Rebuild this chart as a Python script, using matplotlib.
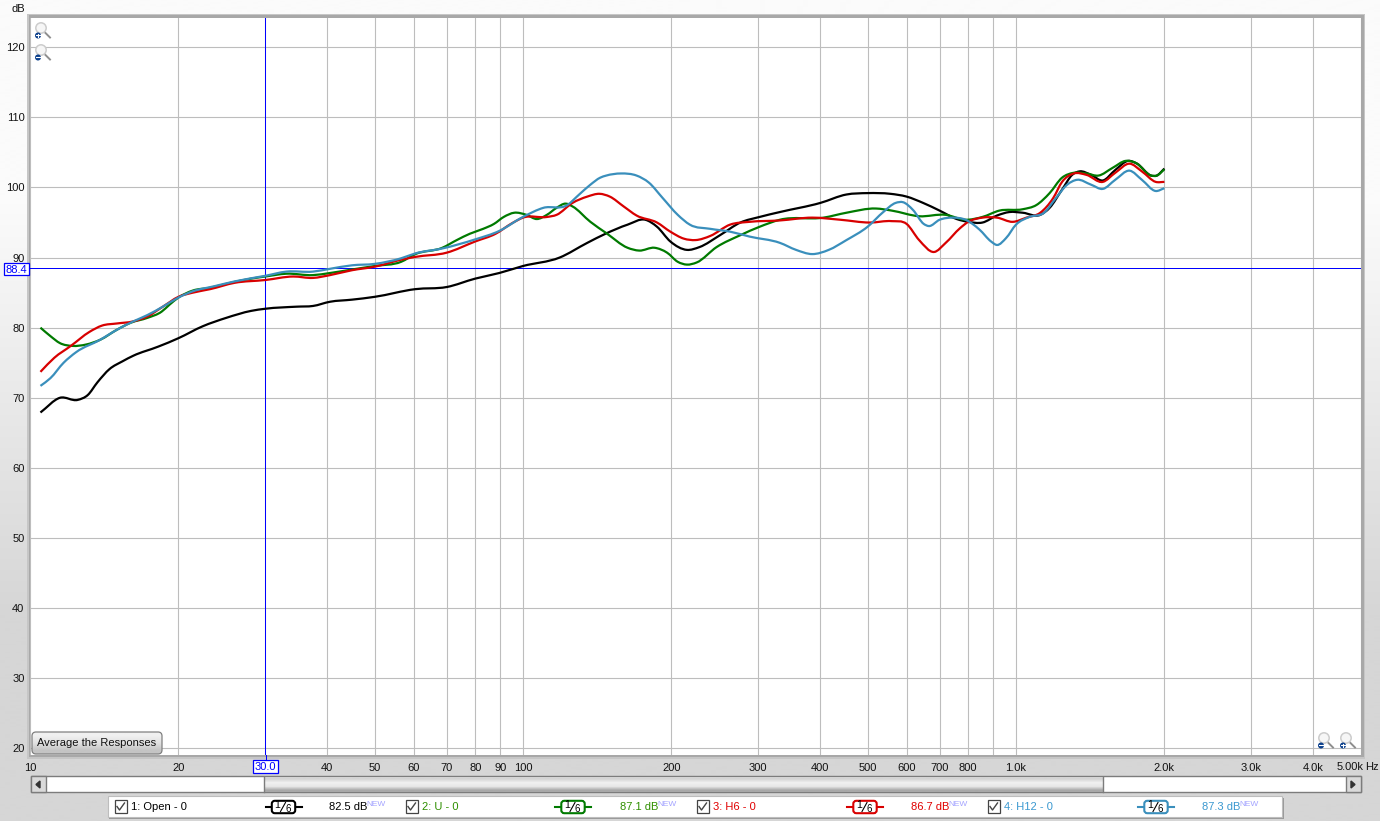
import numpy as np
import matplotlib
matplotlib.use("Agg")
import matplotlib.pyplot as plt
from matplotlib.patches import Rectangle, Circle, FancyBboxPatch, PathPatch
from matplotlib.path import Path
from matplotlib.ticker import NullLocator

plt.rcParams['font.family'] = ['Liberation Sans', 'DejaVu Sans']

# ---------- data ----------
open_hz = [10.5,11.5,12.5,13.1,13.7,14.5,15.4,16.2,18.2,20,22.4,25,28.1,30,34.8,37.5,40.6,45,50,60.5,70,80,89.5,100,118.6,135,147,163,177,187,199,215,228,251,276,302,332,401,453,500,556,600,648,700,758,800,855,915,970,1032,1120,1170,1240,1300,1346,1420,1500,1590,1690,1760,1880,1930,2000]
open_db = [67.9,70.0,69.7,70.4,72.2,74.1,75.2,76.0,77.3,78.5,80.2,81.4,82.4,82.7,83.0,83.1,83.7,84.0,84.4,85.5,85.8,87.0,87.8,88.8,90.0,92.1,93.4,94.7,95.4,94.4,92.3,91.1,91.5,93.2,95.0,95.8,96.5,97.8,99.0,99.2,99.1,98.7,97.8,96.7,95.5,95.1,95.0,96.0,96.5,96.4,96.1,97.1,99.7,101.8,102.3,101.8,101.0,102.5,103.8,103.4,101.7,101.7,102.7]

u_hz = [10.5,11,11.5,12.2,13,13.9,15,16,17.3,18.5,19.2,20,21.4,23.2,25.5,28.1,30,33.1,37.5,40.6,45,50,56.6,60.5,68.6,73.4,78,83,87.3,91.4,96,101.6,106.7,111.8,117,122,126,137,147.5,163,172,185,196,206,215,225,247,276,302,332,407,453,520,560,636,720,790,855,925,1032,1100,1170,1240,1310,1390,1470,1570,1670,1750,1880,1930,2000]
u_db = [80.0,78.8,77.8,77.4,77.6,78.3,79.7,80.7,81.4,82.3,83.3,84.3,85.3,85.7,86.4,87.0,87.3,87.7,87.5,87.8,88.3,88.8,89.4,90.5,91.4,92.5,93.4,94.1,94.8,95.8,96.4,96.1,95.5,96.1,97.1,97.7,97.3,95.1,93.5,91.4,91.0,91.4,90.7,89.4,89.0,89.3,91.5,93.2,94.4,95.4,95.7,96.4,97.0,96.7,95.9,96.1,95.4,95.8,96.7,96.9,97.5,99.2,101.4,102.1,102.0,101.7,102.8,103.8,103.5,101.7,101.7,102.6]

h6_hz = [10.5,11.2,12.1,13.2,14,15,16.2,17.3,18.6,20,21.4,23.2,26,30,34.2,37.5,40.6,45,50,56.6,60.5,70,80,88,95,100,112,117,126,135,143,150,160,170,187,199,212,224,240,263,288,332,386,440,505,560,600,636,682,720,770,800,855,915,985,1050,1120,1190,1240,1310,1390,1500,1590,1700,1800,1920,2000]
h6_db = [73.7,75.7,77.4,79.4,80.3,80.6,80.9,81.6,83.0,84.4,85.0,85.5,86.4,86.8,87.3,87.1,87.5,88.2,88.7,89.7,90.1,90.7,92.3,93.4,94.9,95.7,95.8,96.1,97.8,98.7,99.1,98.7,97.3,96.0,95.0,93.7,92.7,92.5,93.1,94.7,95.1,95.3,95.7,95.4,95.0,95.2,94.8,92.5,90.8,92.1,94.2,95.1,95.7,95.7,95.1,95.7,96.4,98.5,100.8,102.0,101.8,100.8,102.1,103.4,102.3,100.8,100.8]

h12_hz = [10.5,11,11.7,12.4,13.9,15,16.2,17.3,18.6,20,21.4,23.6,26,30,33.1,37.5,40.6,45,50,56.6,60.5,68.6,80,89.5,100,110,123,130,137,143.4,147.5,158,170,180,192,206,218,240,263,288,332,358,386,417,453,500,538,570,590,618,650,665,700,745,790,843,890,915,955,1000,1065,1140,1205,1270,1330,1420,1500,1590,1700,1800,1920,2000]
h12_db = [71.7,72.8,75.0,76.5,78.3,79.7,80.9,81.8,83.0,84.3,85.2,85.9,86.6,87.4,88.0,88.0,88.4,88.9,89.1,89.9,90.6,91.3,92.6,93.8,95.8,97.1,97.5,99.0,100.4,101.4,101.7,102.0,101.7,100.7,98.5,96.1,94.7,94.1,93.7,93.0,92.1,91.1,90.5,91.1,92.5,94.4,96.5,97.8,97.9,96.8,94.8,94.5,95.4,95.7,95.4,94.0,92.3,91.8,92.8,94.7,95.8,96.4,98.5,100.4,101.1,100.4,99.8,101.1,102.4,101.1,99.5,99.9]

series_names = ["1: Open - 0", "2: U - 0", "3: H6 - 0", "4: H12 - 0"]
series_levels = ["82.5 dB", "87.1 dB", "86.7 dB", "87.3 dB"]
line_colors = ["#000000", "#007a00", "#d80000", "#3a8fbc"]
text_colors = ["#000000", "#2f8f00", "#e00000", "#3a98d0"]

x_ticks = [10,20,30,40,50,60,70,80,90,100,200,300,400,500,600,700,800,900,1000,2000,3000,4000,5000]
x_labels = {10:"10",20:"20",40:"40",50:"50",60:"60",70:"70",80:"80",90:"90",100:"100",200:"200",300:"300",
            400:"400",500:"500",600:"600",700:"700",800:"800",1000:"1.0k",2000:"2.0k",3000:"3.0k",4000:"4.0k"}
y_ticks = [20,30,40,50,60,70,80,90,100,110,120]
cursor_hz = 30.0
cursor_db = 88.4

# ---------- figure ----------
W, H = 1380, 821
fig = plt.figure(figsize=(W/100, H/100), dpi=100)

def px_axes(z):
    a = fig.add_axes([0, 0, 1, 1], zorder=z)
    a.set_xlim(0, W); a.set_ylim(H, 0); a.axis('off')
    a.patch.set_alpha(0)
    return a

def vgrad(a, x0, x1, y0, y1, stops, z=1):
    g = np.array([[matplotlib.colors.to_rgb(c)] for c in stops])
    im = a.imshow(g, extent=(x0, x1, y1, y0), aspect='auto', interpolation='bilinear', zorder=z)
    a.set_xlim(0, W); a.set_ylim(H, 0)
    return im

def spline_path(xs, ys):
    """Smooth Bezier through the read points, built in log-frequency space."""
    x = np.log10(np.asarray(xs, float))
    y = np.asarray(ys, float)
    h = np.diff(x)
    s = np.diff(y) / h
    m = np.empty_like(y)
    m[1:-1] = (s[:-1]*h[1:] + s[1:]*h[:-1]) / (h[:-1] + h[1:])
    m[0], m[-1] = s[0], s[-1]
    verts = [(x[0], y[0])]
    codes = [Path.MOVETO]
    for i in range(len(x)-1):
        verts += [(x[i]+h[i]/3, y[i]+m[i]*h[i]/3),
                  (x[i+1]-h[i]/3, y[i+1]-m[i+1]*h[i]/3),
                  (x[i+1], y[i+1])]
        codes += [Path.CURVE4]*3
    v = np.array(verts)
    v[:, 0] = 10**v[:, 0]
    return Path(v, codes)

bg = px_axes(0)
vgrad(bg, 0, W, 0, H, ["#fbfbfb", "#d6d6d6"], z=0)
bg.add_patch(Rectangle((27, 14), 1338, 745, fc="#c6c6c6", ec="none", zorder=1))
bg.add_patch(Rectangle((28.5, 15.5), 1335, 742, fc="#a8a8a8", ec="none", zorder=2))

# main plot
L, R, T, B = 30, 1360.6, 18, 755
ax = fig.add_axes([L/W, 1-B/H, (R-L)/W, (B-T)/H], zorder=1)
ax.set_xscale('log')
ax.set_xlim(10, 5000)
ax.set_ylim(19.04, 124.18)
ax.xaxis.set_minor_locator(NullLocator())
ax.set_xticks(x_ticks)
ax.set_xticklabels([x_labels.get(t, "") for t in x_ticks], fontsize=8, color="#111111")
ax.set_yticks(y_ticks)
ax.set_yticklabels([str(t) for t in y_ticks], fontsize=8, color="#111111")
ax.tick_params(axis='both', which='both', length=0)
ax.tick_params(axis='x', pad=5.5)
ax.tick_params(axis='y', pad=4)
ax.grid(True, color="#bdbdbd", lw=0.8)
ax.set_axisbelow(True)
for s in ax.spines.values():
    s.set_visible(False)

ax.axvline(cursor_hz, color="#0000ff", lw=0.72, zorder=1.5, antialiased=False)
ax.axhline(cursor_db + 0.06, color="#0000ff", lw=0.72, zorder=1.5, antialiased=False)

for (xs, ys, c) in zip([open_hz, u_hz, h6_hz, h12_hz], [open_db, u_db, h6_db, h12_db], line_colors):
    ax.add_patch(PathPatch(spline_path(xs, ys), fill=False, edgecolor=c, lw=1.6,
                           capstyle='butt', joinstyle='round', zorder=3))

# overlay chrome
ov = px_axes(2)
F = 8

def txt(x, y, s, **kw):
    kw.setdefault('fontsize', F); kw.setdefault('va', 'center'); kw.setdefault('ha', 'left')
    kw.setdefault('color', '#111111')
    return ov.text(x, y, s, **kw)

txt(12, 8.5, "dB")
txt(1337, 766.5, "5.00k")
txt(1365, 766.5, "Hz")

# cursor labels
ov.add_patch(Rectangle((3.5, 263.5), 25, 12, fc="white", ec="#0000ff", lw=0.9, zorder=3))
txt(16, 270, "88.4", color="#0000ff", ha='center', fontsize=8)
ov.plot([28.5, 31], [268.5, 268.5], color="#0000ff", lw=0.72, zorder=3)
ov.add_patch(Rectangle((252.5, 760.5), 25, 12.5, fc="white", ec="#0000ff", lw=0.9, zorder=3))
txt(265, 767, "30.0", color="#0000ff", ha='center', fontsize=8, zorder=4)
ov.plot([265.5, 265.5], [755, 760], color="#0000ff", lw=0.72, zorder=3)

# zoom icons
def magnifier(cx, cy, plus):
    ov.plot([cx+3, cx+9], [cy+3.5, cy+9.5], color="#8f8f8f", lw=1.4, zorder=4)
    ov.add_patch(Circle((cx, cy), 5.2, fc="#f6f6f6", ec="#cccccc", lw=1.1, zorder=5))
    bx, by = cx-3, cy+7.5
    ov.add_patch(Circle((bx, by), 3.0, fc="#0a3f8c", ec="none", zorder=6))
    ov.plot([bx-1.6, bx+1.6], [by, by], color="white", lw=0.8, zorder=7)
    if plus:
        ov.plot([bx, bx], [by-1.6, by+1.6], color="white", lw=0.8, zorder=7)

magnifier(41, 28, True)
magnifier(41, 50, False)
magnifier(1324, 738, False)
magnifier(1346, 738, True)

# button
btn = FancyBboxPatch((34, 734), 126, 18, boxstyle="round,pad=2,rounding_size=4", fc="none", ec="#808080", lw=0.9, zorder=4)
ov.add_patch(btn)
im = vgrad(ov, 32, 162, 732, 754, ["#f0f0f0", "#e2e2e2", "#c4c4c4"], z=3)
im.set_clip_path(btn)
txt(97, 743, "Average the Responses", ha='center', zorder=5)

# scrollbar
ov.add_patch(Rectangle((30.5, 776.5), 1330, 15.5, fc="white", ec="#7c7c7c", lw=1.0, zorder=3))
vgrad(ov, 264, 1103, 777, 792, ["#d4d4d4", "#f0f0f0", "#e8e8e8", "#a8a8a8"], z=4)
ov.plot([264, 264], [777, 792], color="#7c7c7c", lw=1.0, zorder=5)
ov.plot([1103, 1103], [777, 792], color="#7c7c7c", lw=1.0, zorder=5)
ov.add_patch(Rectangle((30.5, 776.5), 15, 15.5, fc="#dadada", ec="#7c7c7c", lw=1.0, zorder=5))
ov.add_patch(Rectangle((1346, 776.5), 15, 15.5, fc="#dadada", ec="#7c7c7c", lw=1.0, zorder=5))
ov.fill([36, 40, 40], [784.5, 781, 788], color="#333333", zorder=6)
ov.fill([1355, 1351, 1351], [784.5, 781, 788], color="#333333", zorder=6)

# legend bar
ov.add_patch(Rectangle((109, 798), 1175, 21, fc="#9a9a9a", ec="none", zorder=3))
ov.add_patch(Rectangle((108, 796), 1174, 21, fc="white", ec="#bdbdbd", lw=0.8, zorder=4))

check_x = [114.5, 405.5, 696.5, 987.5]
name_x = [131, 422, 713, 1004.5]
pill_x = [283.5, 573, 865, 1156]
level_x = [329, 620, 911, 1202]
new_x = [366, 657, 948, 1239]
for i in range(4):
    cx = check_x[i]
    ov.add_patch(Rectangle((cx, 800.5), 12.5, 12.5, fc="white", ec="#444444", lw=0.9, zorder=5))
    ov.plot([cx+2.5, cx+5, cx+10], [806.5, 810, 803], color="#444444", lw=1.0, zorder=6)
    txt(name_x[i], 807, series_names[i], color=text_colors[i], zorder=6)
    p = pill_x[i]
    ov.plot([p-18, p+18], [807, 807], color=line_colors[i], lw=1.5, zorder=5)
    ov.add_patch(FancyBboxPatch((p-10.5, 802), 21, 10, boxstyle="round,pad=1.2,rounding_size=3", fc="white", ec=line_colors[i], lw=1.5, zorder=6))
    txt(p-6, 805, "1", ha='center', color='black', fontsize=7.5, zorder=7)
    ov.plot([p-3, p+2], [811.5, 802.5], color='black', lw=0.8, zorder=7)
    txt(p+4.5, 808.5, "6", ha='center', color='black', fontsize=7, zorder=7)
    txt(level_x[i], 807, series_levels[i], color=text_colors[i], zorder=6)
    txt(new_x[i], 804, "NEW", color="#a4a4ff", fontsize=6, zorder=6)

fig.savefig("out.png", dpi=100)
